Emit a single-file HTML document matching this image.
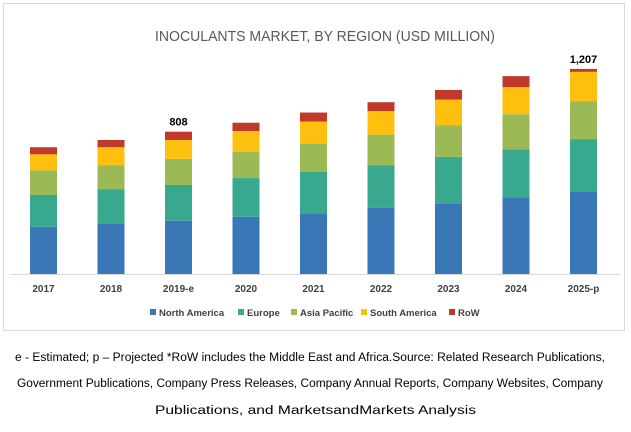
<!DOCTYPE html>
<html><head><meta charset="utf-8"><style>
html,body{margin:0;padding:0;background:#fff;}
svg{display:block;font-family:"Liberation Sans",sans-serif;}
</style></head><body>
<svg id="chart" width="631" height="432" viewBox="0 0 631 432">
<rect x="3.5" y="3.5" width="621" height="327" fill="#fff" stroke="#d9d9d9"/>
<text x="325" y="41" text-anchor="middle" font-size="15" fill="#595959" textLength="340" lengthAdjust="spacingAndGlyphs">INOCULANTS MARKET, BY REGION (USD MILLION)</text>
<line x1="10" y1="274.5" x2="620" y2="274.5" stroke="#d9d9d9"/>
<g id="bars"></g>
<g id="legend"></g>
<text x="310" y="361" text-anchor="middle" font-size="11.5" fill="#000" textLength="590" lengthAdjust="spacingAndGlyphs">e - Estimated; p – Projected *RoW includes the Middle East and Africa.Source: Related Research Publications,</text>
<text x="310" y="387" text-anchor="middle" font-size="11.5" fill="#000" textLength="586" lengthAdjust="spacingAndGlyphs">Government Publications, Company Press Releases, Company Annual Reports, Company Websites, Company</text>
<text x="315.5" y="414" text-anchor="middle" font-size="11.5" fill="#000" textLength="321" lengthAdjust="spacingAndGlyphs">Publications, and MarketsandMarkets Analysis</text>
</svg>
<script>
const categories = ["2017","2018","2019-e","2020","2021","2022","2023","2024","2025-p"];
const seriesNames = ["North America","Europe","Asia Pacific","South America","RoW"];
const northAmerica = [274,292,309,332,352,383,406,445,480];
const europe = [184,200,207,224,240,248,273,278,302];
const asiaPacific = [143,139,151,151,164,177,184,203,218];
const southAmerica = [93,104,110,122,128,136,148,157,172];
const row = [41,42,48,48,52,52,56,64,17];
const totalLabels = ["","","808","","","","","","1,207"];
const colors = ["#3a77b6","#38a88e","#9bb955","#fdc00e","#c0392b"];
const NS = "http://www.w3.org/2000/svg";
const baseY = 274, scale = 0.1725;
function yPx(v){ return baseY - v*scale; }
function xCenter(i){ return 43.5 + i*67.5; }
const series = [northAmerica, europe, asiaPacific, southAmerica, row];
const g = document.getElementById("bars");
categories.forEach((c,i)=>{
  let cum = 0;
  series.forEach((s,k)=>{
    const r = document.createElementNS(NS,"rect");
    r.setAttribute("x", xCenter(i)-13.5);
    r.setAttribute("y", yPx(cum + s[i]));
    r.setAttribute("width", 27);
    r.setAttribute("height", s[i]*scale);
    r.setAttribute("fill", colors[k]);
    
    
    g.appendChild(r);
    cum += s[i];
  });
  const t = document.createElementNS(NS,"text");
  t.setAttribute("x", xCenter(i)); t.setAttribute("y", 292);
  t.setAttribute("text-anchor","middle"); t.setAttribute("font-size","10");
  t.setAttribute("font-weight","bold"); t.setAttribute("fill","#404040");
  t.textContent = c;
  
  
  g.appendChild(t);
  if (totalLabels[i]) {
    const l = document.createElementNS(NS,"text");
    l.setAttribute("x", xCenter(i)); l.setAttribute("y", yPx(cum)-6);
    l.setAttribute("text-anchor","middle"); l.setAttribute("font-size","11");
    l.setAttribute("font-weight","bold"); l.setAttribute("fill","#000");
    l.textContent = totalLabels[i];
    
    
    g.appendChild(l);
  }
});
const legendX = [150,238,291,361,449];
const lg = document.getElementById("legend");
seriesNames.forEach((n,k)=>{
  const r = document.createElementNS(NS,"rect");
  r.setAttribute("x", legendX[k]); r.setAttribute("y", 309);
  r.setAttribute("width", 6); r.setAttribute("height", 6);
  r.setAttribute("fill", colors[k]);
  
  
  lg.appendChild(r);
  const t = document.createElementNS(NS,"text");
  t.setAttribute("x", legendX[k]+9); t.setAttribute("y", 316);
  t.setAttribute("font-size","9.5"); t.setAttribute("font-weight","bold");
  t.setAttribute("fill","#404040");
  t.textContent = n;
  
  
  lg.appendChild(t);
});
</script>
</body></html>
